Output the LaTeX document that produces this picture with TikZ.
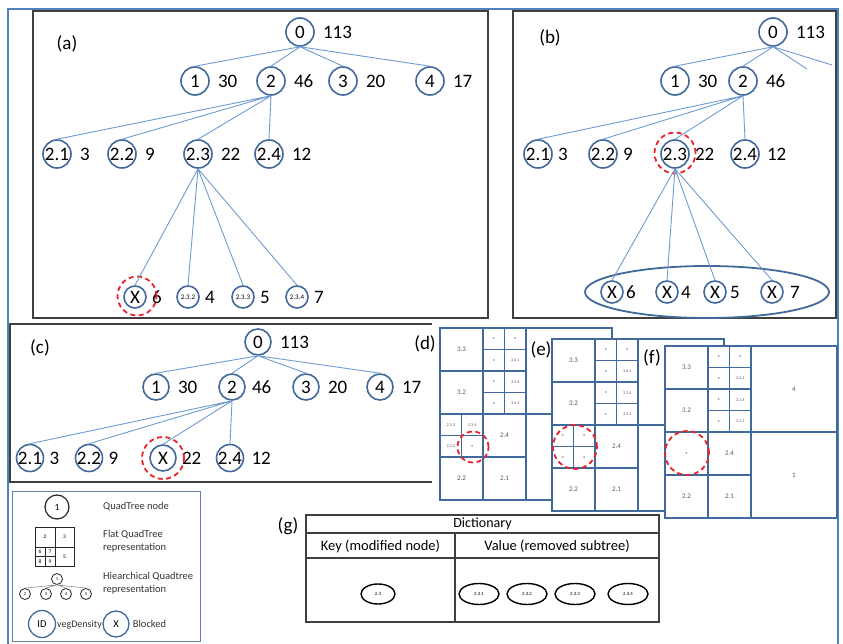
\documentclass[tikz,border=0pt]{standalone}
\usepackage{fontspec}
\setmainfont{Carlito}
\usetikzlibrary{positioning,shapes.geometric}
\definecolor{qtblue}{HTML}{41699C}
\definecolor{qtedge}{HTML}{6F9BD1}
\definecolor{qtframe}{HTML}{4F81BD}
\definecolor{qtred}{HTML}{E8232B}

% flat quadtree, common part of panels (d), (e), (f)
\newcommand{\quadbase}{%
  \fill[white] (0,0) rectangle (172,172);
  \draw[cell] (0,0) rectangle (172,172);
  \draw[cell] (86,0) -- (86,172) (0,86) -- (172,86)
              (43,0) -- (43,172) (0,43) -- (86,43) (0,129) -- (86,129)
              (64.5,0) -- (64.5,86) (43,21.5) -- (86,21.5) (43,64.5) -- (86,64.5);
  \node[tag] (q33) at (21.5,21.5) {3.3};
  \node[tag] (q32) at (21.5,64.5) {3.2};
  \node[tag] (q24) at (64.5,107.5) {2.4};
  \node[tag] (q22) at (21.5,150.5) {2.2};
  \node[tag] (q21) at (64.5,150.5) {2.1};
  \node[tag] (q4) at (129,43) {4};
  \node[tag] (q1) at (129,129) {1};
  \node[tinytag] (qa) at (53.75,10.75) {x};
  \node[tinytag] (qb) at (75.25,10.75) {x};
  \node[tinytag] (qc) at (53.75,32.25) {x};
  \node[tinytag] (q341) at (75.25,32.25) {3.4.1};
  \node[tinytag] (qd) at (53.75,53.75) {x};
  \node[tinytag] (q314) at (75.25,53.75) {3.1.4};
  \node[tinytag] (qe) at (53.75,75.25) {x};
  \node[tinytag] (q311) at (75.25,75.25) {3.1.1};
}

\begin{document}
\begin{tikzpicture}[x=1pt,y=-1pt,
  qn/.style={circle, draw=qtblue, line width=1.6pt, minimum size=28pt,
             inner sep=0pt, font=\fontsize{19}{19}\selectfont},
  qs/.style={qn, minimum size=22pt, font=\fontsize{7}{7}\selectfont},
  qx/.style={qn, minimum size=22pt},
  qval/.style={inner sep=0pt, font=\fontsize{19}{19}\selectfont},
  qedge/.style={draw=qtedge, line width=0.9pt},
  hot/.style={circle, draw=qtred, line width=1.8pt, dash pattern=on 5pt off 3.5pt,
              inner sep=0pt},
  pbox/.style={draw=black!75, line width=1.2pt},
  plabel/.style={font=\fontsize{19}{19}\selectfont, inner sep=0pt},
  cell/.style={draw=qtblue, line width=1.4pt},
  tag/.style={font=\fontsize{7}{7}\selectfont, text=black!65, inner sep=0pt},
  tinytag/.style={font=\fontsize{4.2}{4.2}\selectfont, text=black!65, inner sep=0pt},
  lgtext/.style={font=\fontsize{10.5}{12.5}\selectfont, text=black!80, align=left,
                 anchor=west, inner sep=0pt},
  dict/.style={ellipse, draw=black, line width=1.4pt, minimum width=40pt,
               minimum height=21pt, inner sep=0pt, font=\fontsize{4.8}{4.8}\selectfont}]
\useasboundingbox (0,0) rectangle (843,644);

% outer frame
\draw[qtframe, line width=1.5pt] (8,646) |- (838,9) -- (838,646);

% ---------- (a) ----------
\draw[pbox] (33,11) rectangle (488,318);
\node[plabel] (alab) at (67,44) {(a)};
\node[qn] (a0) at (300,32) {0};
\node[qval, right=8pt of a0] (a0v) {113};
\node[qn] (a1) at (195,81) {1};
\node[qval, right=8pt of a1] (a1v) {30};
\node[qn] (a2) at (271,81) {2};
\node[qval, right=8pt of a2] (a2v) {46};
\node[qn] (a3) at (343,81) {3};
\node[qval, right=8pt of a3] (a3v) {20};
\node[qn] (a4) at (430,81) {4};
\node[qval, right=8pt of a4] (a4v) {17};
\node[qn] (a21) at (57,154) {2.1};
\node[qval, right=8pt of a21] (a21v) {3};
\node[qn] (a22) at (122,154) {2.2};
\node[qval, right=8pt of a22] (a22v) {9};
\node[qn] (a23) at (198,154) {2.3};
\node[qval, right=8pt of a23] (a23v) {22};
\node[qn] (a24) at (269,154) {2.4};
\node[qval, right=8pt of a24] (a24v) {12};
\node[qx] (a231) at (135,297) {X};
\node[qval, right=5pt of a231] (a231v) {6};
\node[qs] (a232) at (188,297) {2.3.2};
\node[qval, right=5pt of a232] (a232v) {4};
\node[qs] (a233) at (243,297) {2.3.3};
\node[qval, right=5pt of a233] (a233v) {5};
\node[qs] (a234) at (297,297) {2.3.4};
\node[qval, right=5pt of a234] (a234v) {7};
\node[hot, minimum size=39pt] (ahot) at (137,296) {};
\draw[qedge] (a0.south) -- (a1.north) (a0.south) -- (a2.north)
             (a0.south) -- (a3.north) (a0.south) -- (a4.north);
\draw[qedge] (a2.south) -- (a21.north) (a2.south) -- (a22.north)
             (a2.south) -- (a23.north) (a2.south) -- (a24.north);
\draw[qedge] (a23.south) -- (a231.north) (a23.south) -- (a232.north)
             (a23.south) -- (a233.north) (a23.south) -- (a234.north);

% ---------- (b) ----------
\draw[pbox] (513,11) rectangle (836,318);
\node[plabel] (blab) at (550,38) {(b)};
\node[qn] (b0) at (773,32) {0};
\node[qval, right=8pt of b0] (b0v) {113};
\node[qn] (b1) at (675,81) {1};
\node[qval, right=8pt of b1] (b1v) {30};
\node[qn] (b2) at (743,81) {2};
\node[qval, right=8pt of b2] (b2v) {46};
\coordinate (b3s) at (807,69);
\coordinate (b4s) at (832,65);
\node[qn] (b21) at (538,154) {2.1};
\node[qval, right=5pt of b21] (b21v) {3};
\node[qn] (b22) at (603,154) {2.2};
\node[qval, right=5pt of b22] (b22v) {9};
\node[qn] (b23) at (675,154) {2.3};
\node[qval, right=5pt of b23] (b23v) {22};
\node[qn] (b24) at (745,154) {2.4};
\node[qval, right=7pt of b24] (b24v) {12};
\node[hot, minimum size=41pt] (bhot) at (675,153) {};
\node[ellipse, draw=qtblue, line width=1.8pt, minimum width=244pt,
      minimum height=52pt] (bset) at (707,292) {};
\node[qx] (b231) at (612,292) {X};
\node[qval, right=2pt of b231] (b231v) {6};
\node[qx] (b232) at (667,292) {X};
\node[qval, right=2pt of b232] (b232v) {4};
\node[qx] (b233) at (715,292) {X};
\node[qval, right=3pt of b233] (b233v) {5};
\node[qx] (b234) at (772,292) {X};
\node[qval, right=6pt of b234] (b234v) {7};
\draw[qedge] (b0.south) -- (b1.north) (b0.south) -- (b2.north)
             (b0.south) -- (b3s) (b0.south) -- (b4s);
\draw[qedge] (b2.south) -- (b21.north) (b2.south) -- (b22.north)
             (b2.south) -- (b23.north) (b2.south) -- (b24.north);
\draw[qedge] (b23.south) -- (b231.north) (b23.south) -- (b232.north)
             (b23.south) -- (b233.north) (b23.south) -- (b234.north);

% ---------- (c) ----------
\draw[pbox] (432,324) -| (10,482) -- (432,482);
\node[plabel] (clab) at (40,348) {(c)};
\node[qn, minimum size=26pt] (c0) at (258,342) {0};
\node[qval, right=8pt of c0] (c0v) {113};
\node[qn, minimum size=26pt] (c1) at (156,387) {1};
\node[qval, right=8pt of c1] (c1v) {30};
\node[qn, minimum size=26pt] (c2) at (232,387) {2};
\node[qval, right=6pt of c2] (c2v) {46};
\node[qn, minimum size=26pt] (c3) at (306,387) {3};
\node[qval, right=8pt of c3] (c3v) {20};
\node[qn, minimum size=26pt] (c4) at (380,387) {4};
\node[qval, right=8pt of c4] (c4v) {17};
\node[qn, minimum size=26pt] (c21) at (30,458) {2.1};
\node[qval, right=5pt of c21] (c21v) {3};
\node[qn, minimum size=26pt] (c22) at (89,458) {2.2};
\node[qval, right=5pt of c22] (c22v) {9};
\node[qn, minimum size=26pt] (c23) at (163,458) {X};
\node[qval, right=5pt of c23] (c23v) {22};
\node[qn, minimum size=26pt] (c24) at (230,458) {2.4};
\node[qval, right=7pt of c24] (c24v) {12};
\node[hot, minimum size=42pt] (chot) at (163,458) {};
\draw[qedge] (c0.south) -- (c1.north) (c0.south) -- (c2.north)
             (c0.south) -- (c3.north) (c0.south) -- (c4.north);
\draw[qedge] (c2.south) -- (c21.north) (c2.south) -- (c22.north)
             (c2.south) -- (c23.north) (c2.south) -- (c24.north);

% ---------- (d) (e) (f) ----------
\begin{scope}[shift={(440,328)}, name prefix=d-]
  \quadbase
  \draw[cell] (21.5,86) -- (21.5,129) (0,107.5) -- (43,107.5);
  \node[tinytag] (s233) at (10.75,96.75) {2.3.3};
  \node[tinytag] (s234) at (32.25,96.75) {2.3.4};
  \node[tinytag] (s232) at (10.75,118.25) {2.3.2};
  \node[tinytag] (sx) at (32.25,118.25) {x};
  \node[hot, minimum size=31pt] (hot) at (33,119) {};
\end{scope}
\node[plabel] (dlab) at (425,344) {(d)};

\begin{scope}[shift={(552,339)}, name prefix=e-]
  \quadbase
  \draw[cell] (21.5,86) -- (21.5,129) (0,107.5) -- (43,107.5);
  \node[tinytag] (s233) at (10.75,96.75) {x};
  \node[tinytag] (s234) at (32.25,96.75) {x};
  \node[tinytag] (s232) at (10.75,118.25) {x};
  \node[tinytag] (sx) at (32.25,118.25) {x};
  \node[hot, minimum size=44pt] (hot) at (23,108) {};
\end{scope}
\node[plabel] (elab) at (541,350) {(e)};

\begin{scope}[shift={(665,346)}, name prefix=f-]
  \quadbase
  \node[tinytag] (sx) at (21.5,107.5) {x};
  \node[hot, minimum size=44pt] (hot) at (22,107) {};
\end{scope}
\node[plabel] (flab) at (652,358) {(f)};

% ---------- legend ----------
\draw[draw=qtframe!55!gray, line width=1pt] (12,491) rectangle (200,641);
\node[circle, draw=black!85, line width=1.2pt, minimum size=24pt, inner sep=0pt,
      font=\fontsize{9.5}{9.5}\selectfont] (lg1) at (57,507) {1};
\node[lgtext] (lg1t) at (103,507) {QuadTree node};
\draw[black!85, line width=0.8pt] (35,527) rectangle (74,566)
     (55,527) -- (55,566) (35,547) -- (74,547) (45,547) -- (45,566) (35,556.5) -- (55,556.5);
\node[font=\fontsize{5.5}{5.5}\selectfont, inner sep=0pt] (g2) at (45,537) {2};
\node[font=\fontsize{5.5}{5.5}\selectfont, inner sep=0pt] (g3) at (64.5,537) {3};
\node[font=\fontsize{5.5}{5.5}\selectfont, inner sep=0pt] (g6) at (40,551.8) {6};
\node[font=\fontsize{5.5}{5.5}\selectfont, inner sep=0pt] (g7) at (50,551.8) {7};
\node[font=\fontsize{5.5}{5.5}\selectfont, inner sep=0pt] (g8) at (40,561.3) {8};
\node[font=\fontsize{5.5}{5.5}\selectfont, inner sep=0pt] (g9) at (50,561.3) {9};
\node[font=\fontsize{5.5}{5.5}\selectfont, inner sep=0pt] (g5) at (64.5,556.5) {5};
\node[lgtext] (lg2t) at (103,541) {Flat QuadTree\\representation};
\node[circle, draw=black!85, line width=0.8pt, minimum size=11pt, inner sep=0pt,
      font=\fontsize{4.5}{4.5}\selectfont] (h1) at (57,579) {1};
\node[circle, draw=black!85, line width=0.8pt, minimum size=11pt, inner sep=0pt,
      font=\fontsize{4.5}{4.5}\selectfont] (h2) at (25,594) {2};
\node[circle, draw=black!85, line width=0.8pt, minimum size=11pt, inner sep=0pt,
      font=\fontsize{4.5}{4.5}\selectfont] (h3) at (46,594) {3};
\node[circle, draw=black!85, line width=0.8pt, minimum size=11pt, inner sep=0pt,
      font=\fontsize{4.5}{4.5}\selectfont] (h4) at (66,594) {4};
\node[circle, draw=black!85, line width=0.8pt, minimum size=11pt, inner sep=0pt,
      font=\fontsize{4.5}{4.5}\selectfont] (h5) at (86,594) {5};
\draw[black!45, line width=0.6pt] (h1.south) -- (h2.north) (h1.south) -- (h3.north)
     (h1.south) -- (h4.north) (h1.south) -- (h5.north);
\node[lgtext] (lg3t) at (103,583) {Hiearchical Quadtree\\representation};
\node[circle, draw=qtblue, line width=1.3pt, minimum size=27pt, inner sep=0pt,
      font=\fontsize{10.5}{10.5}\selectfont] (lgid) at (42,624) {ID};
\node[lgtext, font=\fontsize{10}{12}\selectfont] (lgidt) at (57,625) {vegDensity};
\node[circle, draw=qtblue, line width=1.3pt, minimum size=26pt, inner sep=0pt,
      font=\fontsize{10.5}{10.5}\selectfont] (lgx) at (116,624) {X};
\node[lgtext, right=3pt of lgx] (lgxt) {Blocked};

% ---------- (g) dictionary ----------
\node[plabel] (glab) at (288,526) {(g)};
\draw[black!75, line width=1.2pt] (306,515) rectangle (659,622)
     (306,533) -- (659,533) (306,558) -- (659,558) (455,533) -- (455,622);
\node[font=\fontsize{14}{14}\selectfont, inner sep=0pt] (dtitle) at (482.5,524) {Dictionary};
\node[font=\fontsize{14.5}{14.5}\selectfont, inner sep=0pt] (dkey) at (380.5,546) {Key (modified node)};
\node[font=\fontsize{14.5}{14.5}\selectfont, inner sep=0pt] (dval) at (557,546) {Value (removed subtree)};
\node[dict, minimum width=34pt, minimum height=20pt] (k23) at (378,594) {2.3};
\node[dict] (v231) at (479,594) {2.3.1};
\node[dict] (v232) at (527,594) {2.3.2};
\node[dict] (v233) at (575,594) {2.3.3};
\node[dict] (v234) at (628,594) {2.3.4};
\end{tikzpicture}
\end{document}
